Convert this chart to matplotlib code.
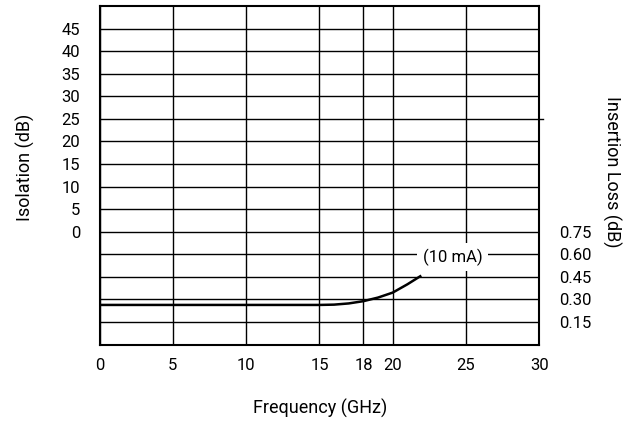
import matplotlib
matplotlib.use("Agg")
import matplotlib.pyplot as plt
import numpy as np

plt.rcParams['font.family'] = ['Roboto', 'DejaVu Sans']

# Data
freq_ticks = [0, 5, 10, 15, 18, 20, 25, 30]
isolation_ticks = [0, 5, 10, 15, 20, 25, 30, 35, 40, 45]
il_ticks = [0.15, 0.30, 0.45, 0.60, 0.75]
il_tick_labels = ["0.15", "0.30", "0.45", "0.60", "0.75"]

# Insertion loss curve, 10 mA
il_freq = [0, 15, 16, 17, 18, 19, 20, 21, 21.95]
il_values = [0.263, 0.263, 0.265, 0.273, 0.288, 0.312, 0.345, 0.40, 0.458]
curve_label = "(10 mA)"

fig = plt.figure(figsize=(6.42, 4.23), dpi=100)
ax = fig.add_axes([99.5/642, 1-344.5/423, (539.3-99.5)/642, (344.5-6)/423])

ax.set_xlim(0, 30)
ax.set_ylim(-25, 50)
grid_y = list(range(-20, 50, 5))
ax.set_yticks(grid_y)
ax.set_yticklabels([str(v) if v in isolation_ticks else "" for v in grid_y])
ax.set_xticks(freq_ticks)
ax.set_xticklabels([str(v) for v in freq_ticks])
ax.grid(True, color='black', linewidth=1.0)
ax.tick_params(length=0, labelsize=12, pad=10)
ax.tick_params(axis='y', pad=14)
for s in ax.spines.values():
    s.set_linewidth(1.5)

ax2 = ax.twinx()
ax2.set_ylim(0, 2.25)
ax2.set_yticks(il_ticks)
ax2.set_yticklabels(il_tick_labels)
ax2.tick_params(length=0, labelsize=12, pad=14)
for s in ax2.spines.values():
    s.set_visible(False)

ax2.plot(il_freq, il_values, color='black', linewidth=1.8, solid_capstyle='butt')
ax2.text(24.1, 0.58, curve_label, ha='center', va='center', fontsize=12,
         bbox=dict(facecolor='white', edgecolor='none', pad=4))

# small tick on right at 25 dB isolation line
ax.plot([1, 1.008], [25, 25], color='black', linewidth=1.0,
        transform=ax.get_yaxis_transform(), clip_on=False)

fig.text(25/642, 1-167/423, "Isolation (dB)", rotation=90, ha='center', va='center', fontsize=13)
fig.text(612/642, 1-172/423, "Insertion Loss (dB)", rotation=270, ha='center', va='center', fontsize=13)
fig.text(320/642, 1-408/423, "Frequency (GHz)", ha='center', va='center', fontsize=13)

fig.savefig("out.png", dpi=100)
